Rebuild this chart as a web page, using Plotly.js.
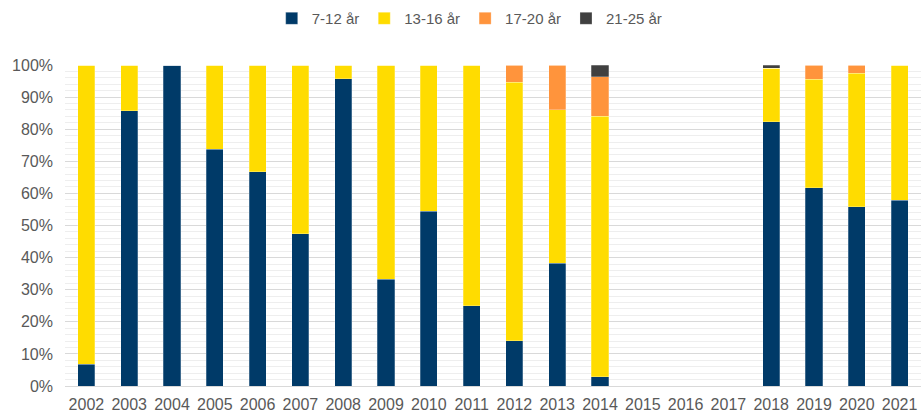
<!DOCTYPE html>
<html>
<head>
<meta charset="utf-8">
<script src="https://cdn.plot.ly/plotly-3.0.1.min.js"></script>
<style>html,body{margin:0;padding:0;background:#fff;}#chart{width:921px;height:417px;}</style>
</head>
<body>
<div id="chart"></div>
<script>
const years = ["2002","2003","2004","2005","2006","2007","2008","2009","2010","2011","2012","2013","2014","2015","2016","2017","2018","2019","2020","2021"];
const age7_12  = [6.7, 85.7, 100, 73.7, 66.7, 47.4, 95.7, 33.3, 54.5, 25.0, 14.1, 38.3, 2.9, null, null, null, 82.3, 61.7, 55.8, 57.9];
const age13_16 = [93.3, 14.3, 0, 26.3, 33.3, 52.6, 4.3, 66.7, 45.5, 75.0, 80.6, 47.8, 81.1, null, null, null, 16.7, 33.9, 41.7, 42.1];
const age17_20 = [0, 0, 0, 0, 0, 0, 0, 0, 0, 0, 5.3, 13.9, 12.3, null, null, null, 0, 4.4, 2.5, 0];
const age21_25 = [0, 0, 0, 0, 0, 0, 0, 0, 0, 0, 0, 0, 3.7, null, null, null, 1.0, 0, 0, 0];
const seriesNames = ["7-12 år", "13-16 år", "17-20 år", "21-25 år"];
const seriesColors = ["#003A68", "#FFDC00", "#FF943C", "#404040"];
const seriesData = [age7_12, age13_16, age17_20, age21_25];

const traces = seriesData.map((vals, i) => ({
  type: "bar",
  name: seriesNames[i],
  x: years,
  y: vals,
  marker: {color: seriesColors[i], line: {color: "rgba(255,255,255,0.5)", width: 0.5}},
  hoverinfo: "x+y+name"
}));

const layout = {
  width: 921, height: 417,
  barmode: "stack",
  bargap: 0.6,
  margin: {l: 65, r: 0, t: 65, b: 31},
  paper_bgcolor: "#fff", plot_bgcolor: "#fff",
  font: {family: "Liberation Sans, Arial, sans-serif", size: 16, color: "#595959"},
  showlegend: true,
  legend: {orientation: "h", xref: "container", yref: "container", x: 0.51, xanchor: "center",
           y: 0.995, yanchor: "top",
           font: {size: 15, color: "#595959"}, itemwidth: 30, traceorder: "normal"},
  xaxis: {type: "category", tickfont: {size: 16, color: "#595959"}, showgrid: false,
          showline: true, linecolor: "#D9D9D9", linewidth: 1, ticks: "", ticklen: 0,
          ticklabelstandoff: 4},
  yaxis: {range: [0, 100], dtick: 10, ticksuffix: "%", tickfont: {size: 16, color: "#595959"},
          showgrid: true, gridcolor: "#D9D9D9", gridwidth: 1, zeroline: false,
          showline: false, ticks: "", automargin: false, ticklabelstandoff: 11,
          minor: {dtick: 2, showgrid: true, gridcolor: "#EEEEEE", gridwidth: 1}}
};

Plotly.newPlot("chart", traces, layout, {displayModeBar: false, staticPlot: true});
</script>
</body>
</html>
